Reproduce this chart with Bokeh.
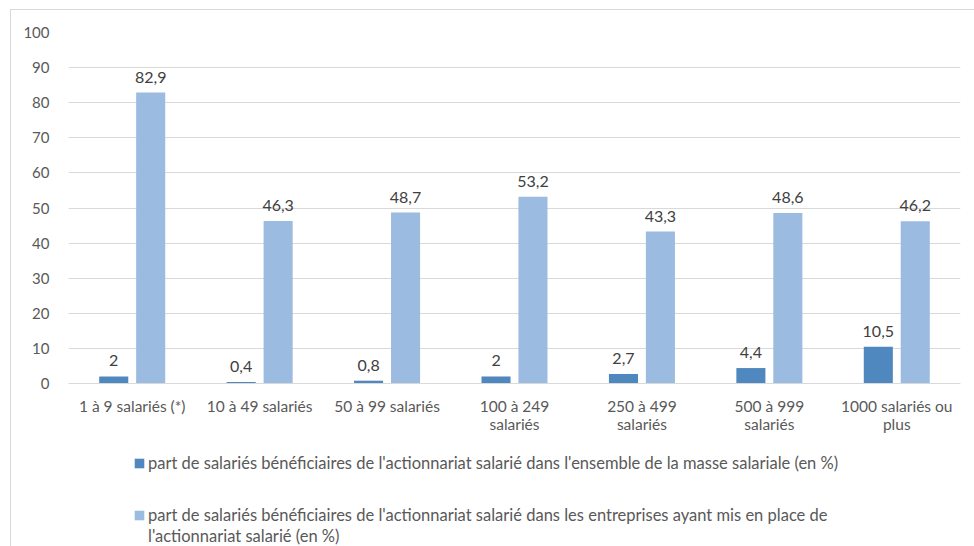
from bokeh.plotting import figure
from bokeh.models import FactorRange, Range1d, Legend, LegendItem, ColumnDataSource, FixedTicker
from bokeh.transform import dodge
from bokeh.core.properties import value
from bokeh.embed import file_html
from bokeh.resources import INLINE

categories = [
    "1 à 9 salariés (*)",
    "10 à 49 salariés",
    "50 à 99 salariés",
    "100 à 249\nsalariés",
    "250 à 499\nsalariés",
    "500 à 999\nsalariés",
    "1000 salariés ou\nplus",
]
part_masse = [2, 0.4, 0.8, 2, 2.7, 4.4, 10.5]
part_entreprises = [82.9, 46.3, 48.7, 53.2, 43.3, 48.6, 46.2]
y_ticks = list(range(0, 101, 10))

series_names = [
    "part de salariés bénéficiaires de l'actionnariat salarié dans l'ensemble de la masse salariale (en %)",
    "part de salariés bénéficiaires de l'actionnariat salarié dans les entreprises ayant mis en place de\nl'actionnariat salarié (en %)",
]

DARK = "#4f87bf"
LIGHT = "#9bbbe0"
GRID = "#d9d9d9"
TEXT = "#595959"
FONT = "Lato"


def fmt(v):
    return f"{v:g}".replace(".", ",")


source = ColumnDataSource(dict(
    cat=categories,
    masse=part_masse,
    entreprises=part_entreprises,
    masse_lbl=[fmt(v) for v in part_masse],
    entreprises_lbl=[fmt(v) for v in part_entreprises],
))

# The plotting frame runs down to the bottom of the page so that the
# category labels and the legend can sit underneath the 0 line.
PLOT_H = 351          # pixels between 0 and 100
FRAME_H = 520
y_start = -100 * (FRAME_H - PLOT_H) / PLOT_H

p = figure(
    x_range=FactorRange(*categories, range_padding=0),
    y_range=Range1d(y_start, 100),
    frame_width=892, frame_height=FRAME_H,
    output_backend="svg", toolbar_location=None,
    min_border_left=57, min_border_right=20, min_border_top=22, min_border_bottom=0,
)

off = 0.145
w = 0.228
r1 = p.vbar(x=dodge("cat", -off, range=p.x_range), top="masse", width=w, source=source,
            fill_color=DARK, line_color=None)
r2 = p.vbar(x=dodge("cat", off, range=p.x_range), top="entreprises", width=w, source=source,
            fill_color=LIGHT, line_color=None)

for col, lbl, dx in (("masse", "masse_lbl", -off), ("entreprises", "entreprises_lbl", off)):
    p.text(x=dodge("cat", dx, range=p.x_range), y=col, text=lbl, source=source,
           text_align="center", text_baseline="bottom", y_offset=-10,
           text_font=value(FONT), text_font_size="16px", text_color="#404040")

p.outline_line_color = None
p.xgrid.grid_line_color = None
p.ygrid.grid_line_color = GRID
p.ygrid.grid_line_width = 1

p.yaxis.ticker = FixedTicker(ticks=y_ticks)
p.yaxis.axis_line_color = None
p.yaxis.major_tick_line_color = None
p.yaxis.minor_tick_line_color = None
p.yaxis.major_label_standoff = 13
p.yaxis.major_label_text_font = FONT
p.yaxis.major_label_text_font_size = "15px"
p.yaxis.major_label_text_color = TEXT

p.xaxis.fixed_location = 0
p.xaxis.axis_line_color = GRID
p.xaxis.major_tick_line_color = None
p.xaxis.minor_tick_line_color = None
p.xaxis.major_label_standoff = 7
p.xaxis.major_label_text_font = FONT
p.xaxis.major_label_text_font_size = "15.5px"
p.xaxis.major_label_text_color = TEXT
p.xaxis.major_label_text_line_height = 1.0

# Legend: the second series name wraps onto a second line, which is set
# as its own swatch-less row so the swatch stays level with the first line.
name2_first, name2_rest = series_names[1].split("\n")
legend_style = dict(
    orientation="vertical",
    label_text_font=FONT, label_text_font_size="16.5px", label_text_color=TEXT,
    label_height=20, glyph_height=12, label_standoff=3,
    padding=0, margin=0,
    border_line_color=None, background_fill_alpha=0,
)
legend = Legend(
    items=[LegendItem(label=series_names[0], renderers=[r1]),
           LegendItem(label=name2_first, renderers=[r2])],
    location=(65, 27), glyph_width=12, spacing=32, **legend_style,
)
legend_cont = Legend(
    items=[LegendItem(label=name2_rest, renderers=[r2])],
    location=(77, 6), glyph_width=0, spacing=0, **legend_style,
)
p.add_layout(legend, "center")
p.add_layout(legend_cont, "center")

p.styles = {"border": f"1px solid {GRID}", "margin-left": "10px", "margin-top": "9px"}

open("out.html", "w").write(file_html(p, INLINE))
